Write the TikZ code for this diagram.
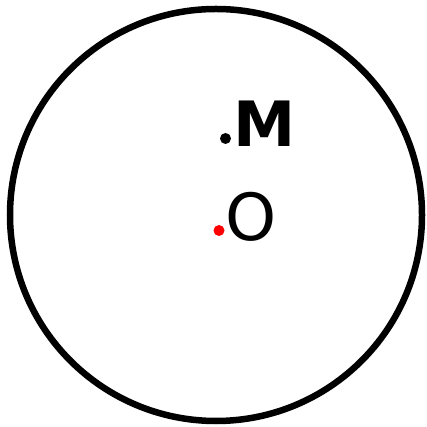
\documentclass[tikz,border=0pt]{standalone}
\usepackage{fontspec}
\usepackage{xcolor}
\setmainfont{DejaVu Sans}
\usetikzlibrary{positioning}
\definecolor{PointRed}{HTML}{FF0000}
\tikzset{
  rim/.style={draw=black,line width=6.5pt},
  pointdot/.style={circle,inner sep=0pt,minimum size=11pt},
  pointlabel/.style={inner sep=0pt,anchor=base west}
}
\begin{document}
\begin{tikzpicture}[x=1pt,y=1pt]
  \useasboundingbox (0,0) rectangle (427,427);
  % Outer circle.
  \node[rim,circle,minimum size=412pt,inner sep=0pt] (disk) at (216,212) {};

  % Point M with its dot.
  \node[pointdot,fill=black] (mdot) at (225.5,288.5) {};
  \node[pointlabel,font=\fontsize{62.5}{70}\selectfont\bfseries] (mlabel) at (233,280) {M};

  % Centre O with its red dot.
  \node[pointdot,fill=PointRed,minimum size=11pt] (odot) at (219,196.5) {};
  \node[pointlabel,font=\fontsize{65}{72}\selectfont] (olabel) at (225,186) {O};
\end{tikzpicture}
\end{document}
